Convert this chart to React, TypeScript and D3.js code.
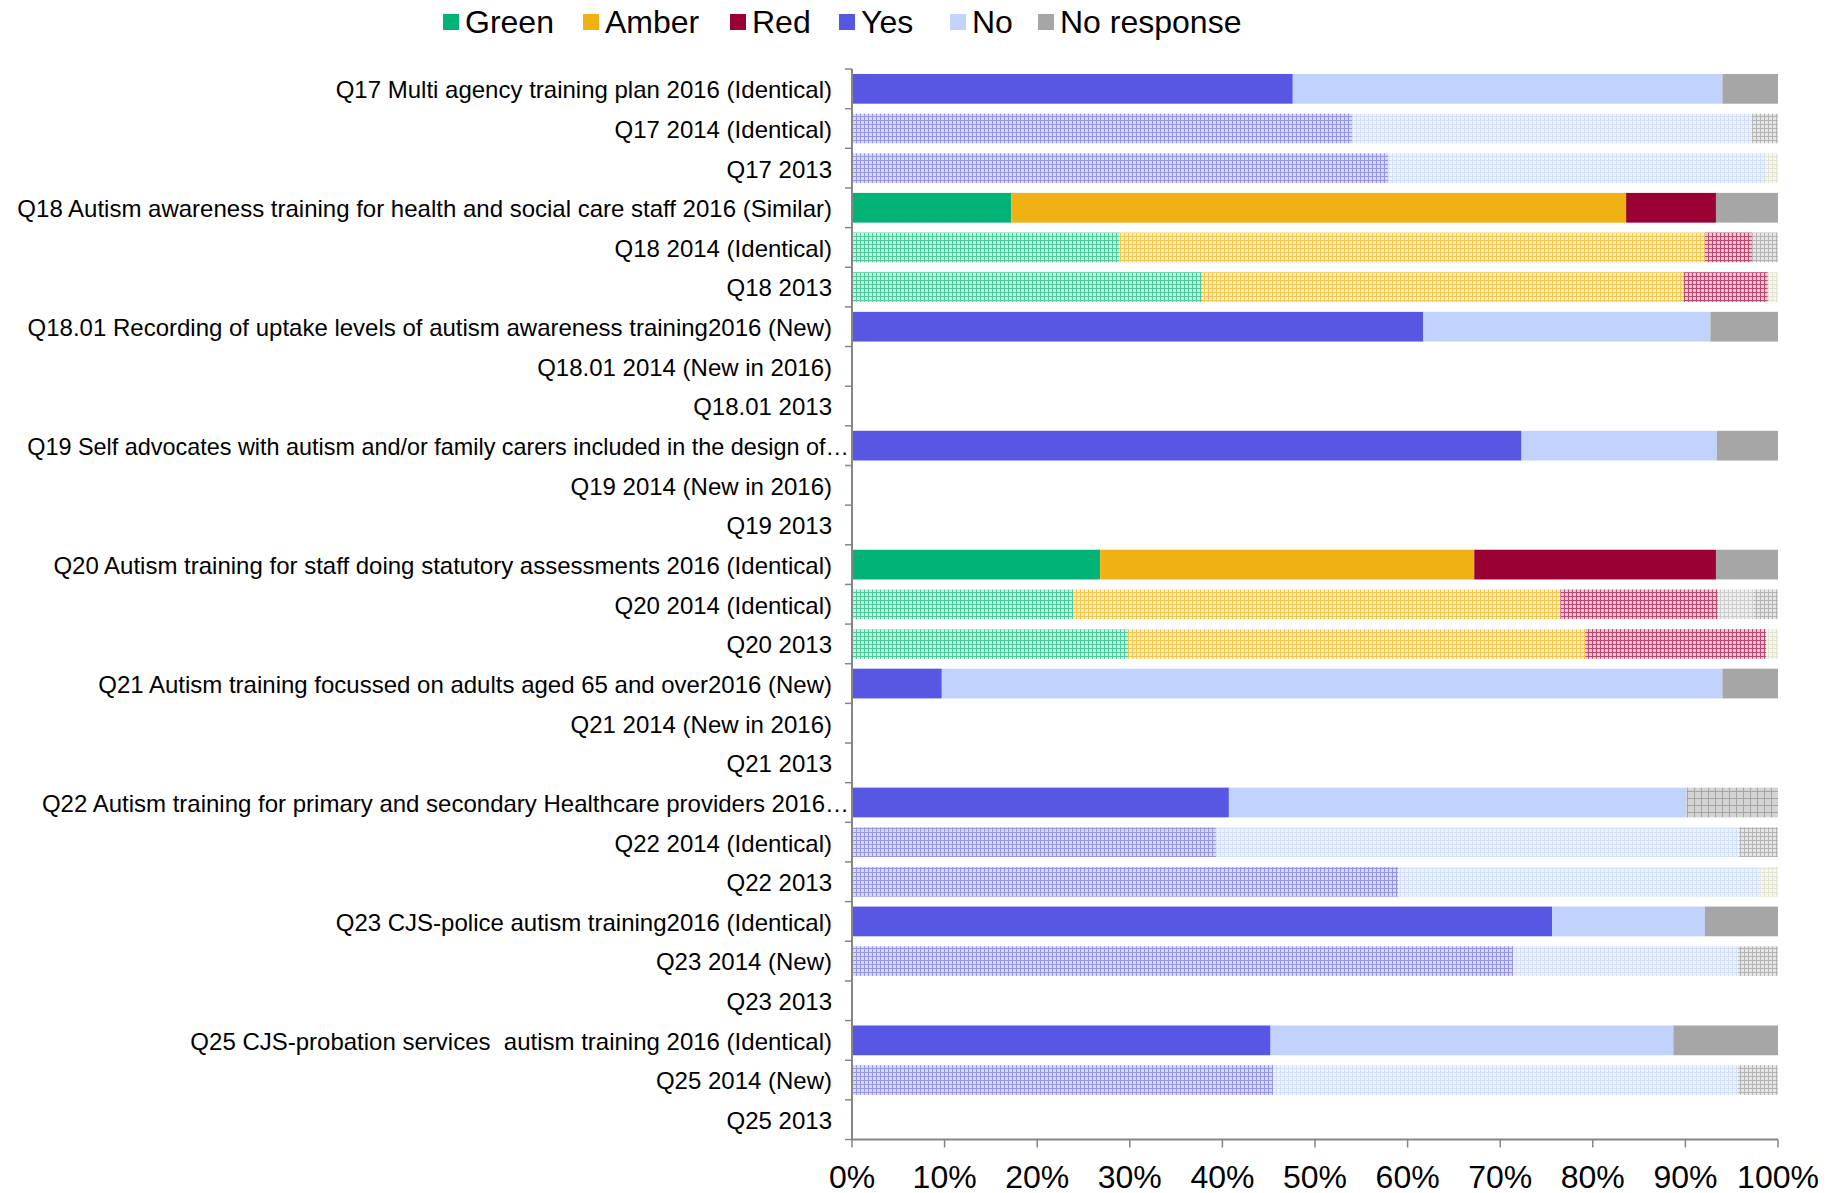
import React from "react";
import * as d3 from "d3";

const W = 1843;
const H = 1193;

const labels = [
  "Q17 Multi agency training plan 2016 (Identical)",
  "Q17 2014 (Identical)",
  "Q17 2013",
  "Q18 Autism awareness training for health and social care staff 2016 (Similar)",
  "Q18 2014 (Identical)",
  "Q18 2013",
  "Q18.01 Recording of uptake levels of autism awareness training2016 (New)",
  "Q18.01 2014 (New in 2016)",
  "Q18.01 2013",
  "Q19 Self advocates with autism and/or family carers included in the design of\u2026",
  "Q19 2014 (New in 2016)",
  "Q19 2013",
  "Q20 Autism training for staff doing statutory assessments 2016 (Identical)",
  "Q20 2014 (Identical)",
  "Q20 2013",
  "Q21 Autism training focussed on adults aged 65 and over2016 (New)",
  "Q21 2014 (New in 2016)",
  "Q21 2013",
  "Q22 Autism training for primary and secondary Healthcare providers 2016\u2026",
  "Q22 2014 (Identical)",
  "Q22 2013",
  "Q23 CJS-police autism training2016 (Identical)",
  "Q23 2014 (New)",
  "Q23 2013",
  "Q25 CJS-probation services  autism training 2016 (Identical)",
  "Q25 2014 (New)",
  "Q25 2013",
];

const years = [
  2016, 2014, 2013, 2016, 2014, 2013, 2016, 2014, 2013, 2016, 2014, 2013, 2016, 2014,
  2013, 2016, 2014, 2013, 2016, 2014, 2013, 2016, 2014, 2013, 2016, 2014, 2013,
];

// percentages per row
const green = [0, 0, 0, 17.2, 28.9, 37.8, 0, 0, 0, 0, 0, 0, 26.8, 23.9, 29.8, 0, 0, 0, 0, 0, 0, 0, 0, 0, 0, 0, 0];
const amber = [0, 0, 0, 66.4, 63.2, 52.0, 0, 0, 0, 0, 0, 0, 40.4, 52.6, 49.4, 0, 0, 0, 0, 0, 0, 0, 0, 0, 0, 0, 0];
const red = [0, 0, 0, 9.7, 5.1, 9.1, 0, 0, 0, 0, 0, 0, 26.1, 17.0, 19.5, 0, 0, 0, 0, 0, 0, 0, 0, 0, 0, 0, 0];
const yes = [47.6, 54.0, 57.9, 0, 0, 0, 61.7, 0, 0, 72.3, 0, 0, 0, 0, 0, 9.7, 0, 0, 40.7, 39.3, 59.0, 75.6, 71.4, 0, 45.2, 45.5, 0];
const no = [46.4, 43.2, 40.8, 0, 0, 0, 31.0, 0, 0, 21.1, 0, 0, 0, 0, 0, 84.3, 0, 0, 49.4, 56.5, 39.1, 16.5, 24.3, 0, 43.5, 50.2, 0];
const other = [0, 0, 0, 0, 0, 0, 0, 0, 0, 0, 0, 0, 0, 3.9, 0, 0, 0, 0, 0, 0, 0, 0, 0, 0, 0, 0, 0];
const noResponse = [6.0, 2.8, 0, 6.7, 2.8, 0, 7.3, 0, 0, 6.6, 0, 0, 6.7, 2.6, 0, 6.0, 0, 0, 0, 4.2, 0, 7.9, 4.3, 0, 11.3, 4.3, 0];
const notKnown = [0, 0, 0, 0, 0, 0, 0, 0, 0, 0, 0, 0, 0, 0, 0, 0, 0, 0, 9.9, 0, 0, 0, 0, 0, 0, 0, 0];
const notAnswered = [0, 0, 1.3, 0, 0, 1.1, 0, 0, 0, 0, 0, 0, 0, 0, 1.3, 0, 0, 0, 0, 0, 1.9, 0, 0, 0, 0, 0, 0];

const keys = ["green", "amber", "red", "yes", "no", "other", "noResponse", "notKnown", "notAnswered"];
const legendItems = [
  { key: "green", name: "Green" },
  { key: "amber", name: "Amber" },
  { key: "red", name: "Red" },
  { key: "yes", name: "Yes" },
  { key: "no", name: "No" },
  { key: "noResponse", name: "No response" },
];

const solid: Record<string, string> = {
  green: "#02b377",
  amber: "#f0b114",
  red: "#9b0034",
  yes: "#5757e4",
  no: "#c1d3fc",
  noResponse: "#a6a6a6",
  other: "#e2e2e2",
  notKnown: "#c4c4c4",
  notAnswered: "#f4f4e6",
};
// pattern: [background, line, size]
const pats: Record<string, [string, string, number]> = {
  green: ["#c9efe0", "#4ccb9c", 4],
  amber: ["#fcefc8", "#f5c64e", 4],
  red: ["#ecc6d3", "#b84a72", 4],
  yes: ["#dadaf8", "#9595ec", 4],
  no: ["#eef3ff", "#d2e0fd", 4],
  noResponse: ["#e6e6e6", "#b4b4b4", 4],
  other: ["#efefef", "#cdcdcd", 4],
  notKnown: ["#d4d4d4", "#a4a4a4", 7],
  notAnswered: ["#f7f7ef", "#e4e4d2", 4],
};

const rows = labels.map((label, i) => ({
  label,
  year: years[i],
  green: green[i],
  amber: amber[i],
  red: red[i],
  yes: yes[i],
  no: no[i],
  other: other[i],
  noResponse: noResponse[i],
  notKnown: notKnown[i],
  notAnswered: notAnswered[i],
}));

const margin = { left: 852, right: W - 1778, top: 69, bottom: H - 1139.5 };

export default function App() {
  const x = d3.scaleLinear().domain([0, 100]).range([margin.left, W - margin.right]);
  const y = d3
    .scaleBand<string>()
    .domain(labels)
    .range([margin.top, H - margin.bottom])
    .paddingInner(0.25)
    .paddingOuter(0.125);
  const step = y.step();
  const stack = d3.stack<any>().keys(keys)(rows);
  const axisColor = "#868686";
  const font = "'Liberation Sans', Arial, sans-serif";

  const fillFor = (key: string, year: number) => {
    if (key === "notKnown") return `url(#p-${key})`;
    return year === 2016 ? solid[key] : `url(#p-${key})`;
  };

  const legendX = [443, 583, 730, 839, 950, 1038];

  return (
    <svg width={W} height={H} style={{ position: "absolute", left: 0, top: 0, background: "#fff" }}>
      <defs>
        {keys.map((k) => {
          const [bg, ln, s] = pats[k];
          return (
            <pattern key={k} id={`p-${k}`} width={s} height={s} patternUnits="userSpaceOnUse">
              <rect width={s} height={s} fill={bg} />
              <path d={`M0 0.5H${s}M0.5 0V${s}`} stroke={ln} strokeWidth={1} />
            </pattern>
          );
        })}
      </defs>

      {/* legend */}
      {legendItems.map((d, i) => (
        <g key={d.key} transform={`translate(${legendX[i]},22)`}>
          <rect x={0} y={-8} width={16} height={16} fill={solid[d.key]} />
          <text x={22} y={0} dy="0.35em" fontFamily={font} fontSize={32} fill="#000">
            {d.name}
          </text>
        </g>
      ))}

      {/* bars */}
      {stack.map((layer) => (
        <g key={layer.key}>
          {layer.map((seg, i) => {
            const w = x(seg[1]) - x(seg[0]);
            if (w <= 0) return null;
            return (
              <rect
                key={i}
                x={x(seg[0])}
                y={y(labels[i])!}
                width={w}
                height={y.bandwidth()}
                fill={fillFor(layer.key, rows[i].year)}
              />
            );
          })}
        </g>
      ))}

      {/* y axis */}
      <line x1={x(0)} x2={x(0)} y1={margin.top} y2={H - margin.bottom} stroke={axisColor} strokeWidth={2} />
      {d3.range(labels.length + 1).map((i) => (
        <line
          key={i}
          x1={x(0) - 7}
          x2={x(0)}
          y1={margin.top + i * step}
          y2={margin.top + i * step}
          stroke={axisColor}
          strokeWidth={1.5}
        />
      ))}
      {labels.map((l) => (
        <text
          key={l}
          x={l.endsWith("\u2026") ? x(0) - 3 : x(0) - 20}
          y={y(l)! + y.bandwidth() / 2 + 1}
          dy="0.35em"
          textAnchor="end"
          fontFamily={font}
          fontSize={l.startsWith("Q19 Self") ? 23.4 : 24}
          fill="#000"
          style={{ whiteSpace: "pre" }}
        >
          {l}
        </text>
      ))}

      {/* x axis */}
      <line x1={x(0)} x2={x(100)} y1={H - margin.bottom} y2={H - margin.bottom} stroke={axisColor} strokeWidth={2} />
      {x.ticks(10).map((t) => (
        <g key={t} transform={`translate(${x(t)},${H - margin.bottom})`}>
          <line y1={0} y2={8} stroke={axisColor} strokeWidth={1.5} />
          <text y={48} textAnchor="middle" fontFamily={font} fontSize={32} fill="#000">
            {t}%
          </text>
        </g>
      ))}
    </svg>
  );
}
